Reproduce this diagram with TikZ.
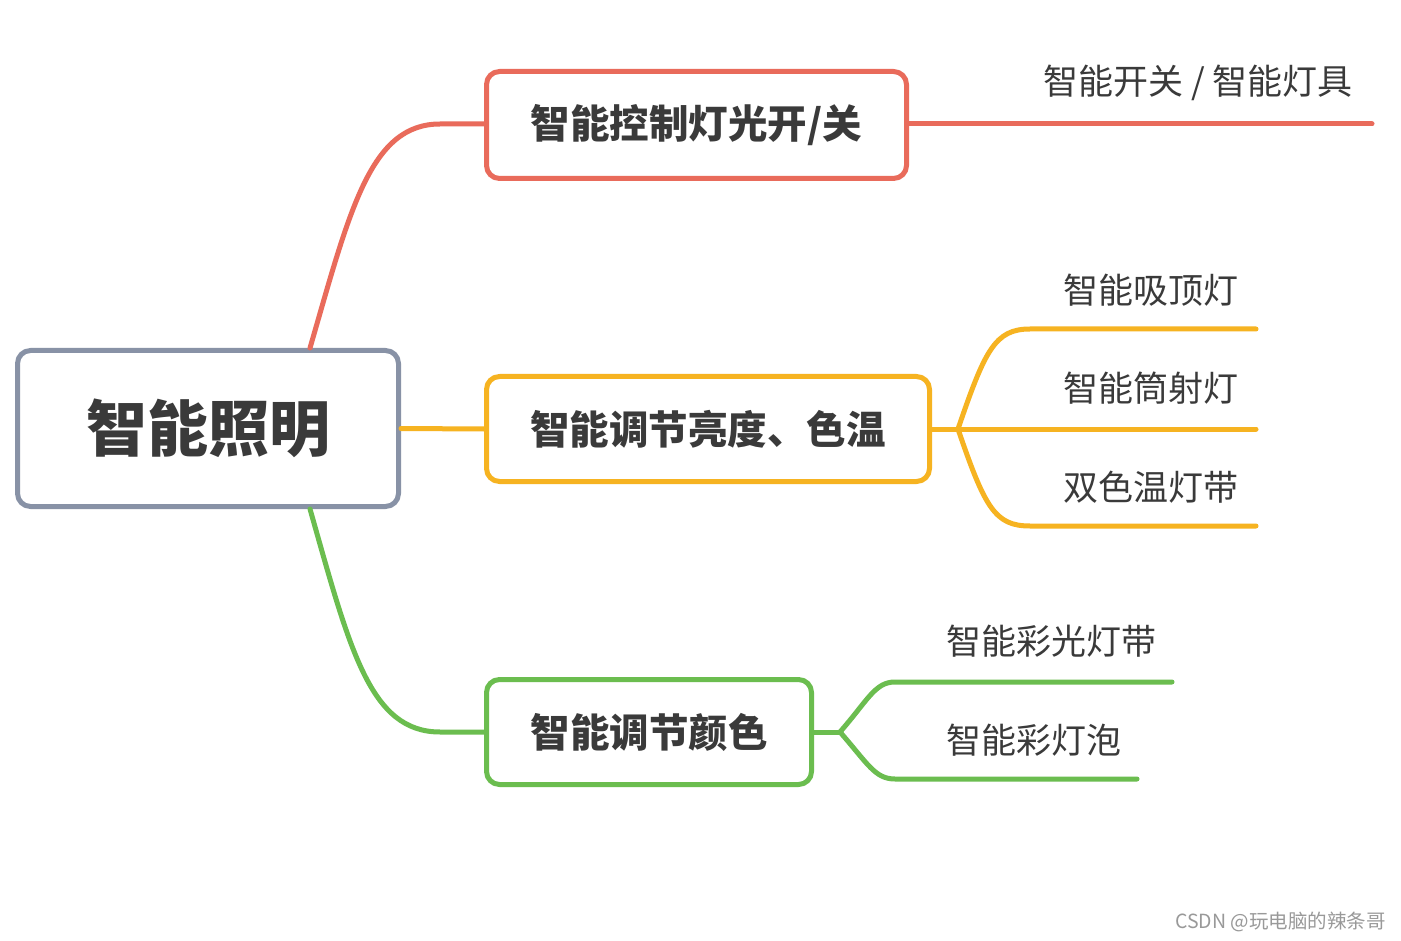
\documentclass[tikz,border=0pt]{standalone}
\usepackage{fontspec}
\setmainfont{Noto Sans CJK SC}
\usetikzlibrary{positioning}

\definecolor{rootgray}{RGB}{136,146,166}
\definecolor{redbr}{RGB}{233,107,91}
\definecolor{yellowbr}{RGB}{246,179,33}
\definecolor{greenbr}{RGB}{107,189,79}
\definecolor{txt}{RGB}{58,58,58}

\begin{document}
\begin{tikzpicture}[line cap=round,line join=round,x=1pt,y=-1pt,
  box/.style={draw,line width=5pt,rounded corners=13pt,fill=white,text=txt,inner sep=0pt,
    font=\bfseries\fontsize{39.5}{42}\selectfont},
  leaf/.style={text=txt,inner sep=0pt,anchor=west,font=\fontsize{35}{37}\selectfont},
  branch/.style={line width=5pt}]
 \useasboundingbox[fill=white] (0,0) rectangle (1401,941);
 % main boxes
 \node[box,draw=rootgray,minimum width=381pt,minimum height=156pt,
   font=\bfseries\fontsize{61}{64}\selectfont] (root) at (208,428.5) {智能照明};
 \node[box,draw=redbr,minimum width=420pt,minimum height=107pt] (ctrl) at (696.5,125) {智能控制灯光开/关};
 \node[box,draw=yellowbr,minimum width=443pt,minimum height=105pt] (adj) at (708,429) {智能调节亮度、色温};
 \node[box,draw=greenbr,minimum width=325pt,minimum height=105pt] (clr) at (649,732) {智能调节颜色};
 % branch ends
 \coordinate (r1) at (1372,124);
 \coordinate (yfork) at (958,429);
 \coordinate (y1) at (1256,329);
 \coordinate (y2) at (1256,429);
 \coordinate (y3) at (1256,526);
 \coordinate (gfork) at (840,732);
 \coordinate (g1) at (1172,682);
 \coordinate (g2) at (1137,779);
 % red
 \draw[branch,redbr] ([xshift=102pt]root.north) .. controls (350,210) and (370,124) .. (440,124) -- (ctrl.west|-r1);
 \draw[branch,redbr] (ctrl.east|-r1) -- (r1);
 % yellow
 \draw[branch,yellowbr] (root.east) -- (adj.west);
 \draw[branch,yellowbr] (adj.east) -- (yfork);
 \draw[branch,yellowbr] (yfork) .. controls (985,350) and (995,329) .. (1030,329) -- (y1);
 \draw[branch,yellowbr] (yfork) -- (y2);
 \draw[branch,yellowbr] (yfork) .. controls (985,508) and (995,526) .. (1030,526) -- (y3);
 % green
 \draw[branch,greenbr] ([xshift=102pt]root.south) .. controls (350,650) and (370,732) .. (440,732) -- (clr.west);
 \draw[branch,greenbr] (clr.east) -- (gfork);
 \draw[branch,greenbr] (gfork) .. controls (868,700) and (875,682) .. (895,682) -- (g1);
 \draw[branch,greenbr] (gfork) .. controls (868,764) and (875,779) .. (895,779) -- (g2);
 % labels
 \node[leaf] (r1lab) at (1043,83) {智能开关 / 智能灯具};
 \node[leaf] (y1lab) at (1063,290) {智能吸顶灯};
 \node[leaf] (y2lab) at (1063,388) {智能筒射灯};
 \node[leaf] (y3lab) at (1063,487) {双色温灯带};
 \node[leaf] (g1lab) at (946,641) {智能彩光灯带};
 \node[leaf] (g2lab) at (946,740) {智能彩灯泡};
 \node[anchor=east,inner sep=0pt,text=black!40,font=\fontsize{19.5}{21}\selectfont] (mark) at (1386,922) {CSDN @玩电脑的辣条哥};
\end{tikzpicture}
\end{document}
